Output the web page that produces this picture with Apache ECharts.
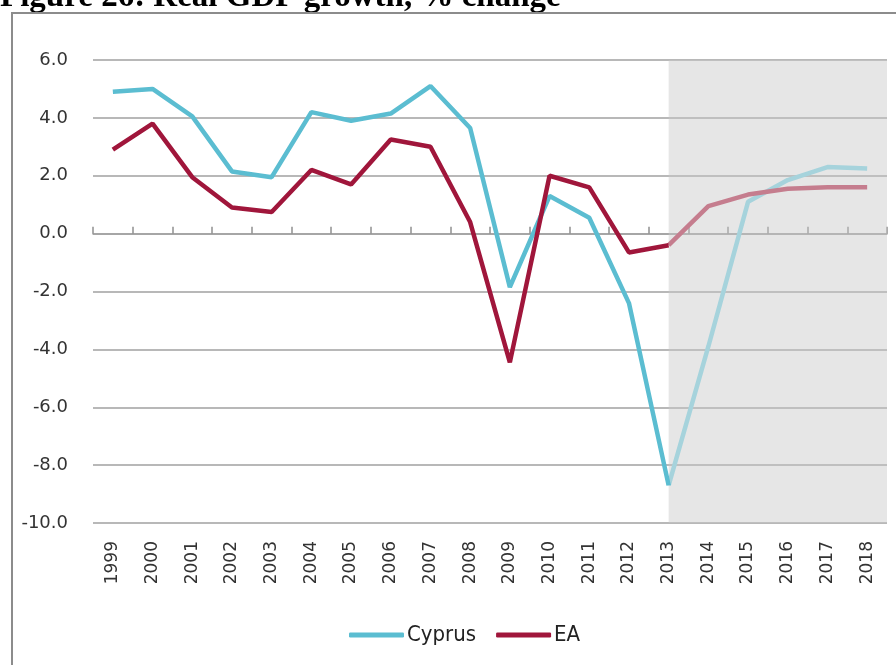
<!DOCTYPE html>
<html>
<head>
<meta charset="utf-8">
<script src="https://cdn.jsdelivr.net/npm/echarts@6/dist/echarts.min.js"></script>
<style>
  html, body { margin: 0; padding: 0; background: #fff; }
  #chart { width: 896px; height: 665px; }
</style>
</head>
<body>
<div id="chart"></div>
<script>
  // years on the category axis
  var years = ['1999', '2000', '2001', '2002', '2003', '2004', '2005', '2006', '2007', '2008',
               '2009', '2010', '2011', '2012', '2013', '2014', '2015', '2016', '2017', '2018']
  // real GDP growth, % change
  var cyprus = [4.9, 5.0, 4.05, 2.15, 1.95, 4.2, 3.9, 4.15, 5.1, 3.65,
                -1.85, 1.3, 0.55, -2.4, -8.7, -3.9, 1.1, 1.85, 2.3, 2.25]
  var ea = [2.9, 3.8, 1.95, 0.9, 0.75, 2.2, 1.7, 3.25, 3.0, 0.4,
            -4.45, 2.0, 1.6, -0.65, -0.4, 0.95, 1.35, 1.55, 1.6, 1.6]
  var forecastFrom = '2013'
  var yTicks = { min: -10, max: 6, step: 2 }

  var cut = years.indexOf(forecastFrom)
  function actual(arr) {
    return arr.map(function (v, i) { return i <= cut ? v : null })
  }
  function forecast(arr) {
    return arr.map(function (v, i) { return i >= cut ? v : null })
  }

  var chart = echarts.init(document.getElementById('chart'))
  var labelFont = '"DejaVu Sans", sans-serif'

  var option = {
    animation: false,
    backgroundColor: '#fff',
    graphic: [
      {
        type: 'text',
        x: 0,
        y: 14,
        style: {
          text: 'Figure 26: Real GDP growth, % change',
          font: 'bold 33px "Liberation Serif", serif',
          fill: '#000',
          verticalAlign: 'bottom'
        }
      },
      {
        type: 'rect',
        shape: { x: 12, y: 13, width: 900, height: 700 },
        style: { fill: 'none', stroke: '#8c8c8c', lineWidth: 2 },
        z: 100
      }
    ],
    legend: {
      data: ['Cyprus', 'EA'],
      bottom: 14,
      left: 344,
      icon: 'roundRect',
      itemWidth: 55,
      itemHeight: 5,
      itemGap: 20,
      textStyle: { fontFamily: '"DejaVu Sans Condensed", sans-serif', fontSize: 22, color: '#222', padding: [0, 0, 0, -2] }
    },
    grid: { left: 93, right: 9, top: 60, bottom: 142 },
    xAxis: [
      {
        type: 'category',
        data: years,
        boundaryGap: true,
        axisLine: { onZero: true, lineStyle: { color: '#a0a0a0', width: 1.5 } },
        axisTick: { show: true, interval: 0, inside: true, length: 7, lineStyle: { color: '#909090', width: 1.5 } },
        axisLabel: { show: false }
      },
      {
        type: 'category',
        data: years,
        position: 'bottom',
        axisLine: { show: false },
        axisTick: { show: false },
        axisLabel: { rotate: 90, margin: 18, fontSize: 17, color: '#333', fontFamily: labelFont }
      }
    ],
    yAxis: {
      type: 'value',
      min: yTicks.min,
      max: yTicks.max,
      interval: yTicks.step,
      axisLine: { show: false },
      axisTick: { show: false },
      splitLine: { lineStyle: { color: '#a0a0a0', width: 1.5 } },
      axisLabel: {
        margin: 25,
        fontSize: 18,
        color: '#333',
        fontFamily: labelFont,
        formatter: function (v) { return v.toFixed(1) }
      }
    },
    series: [
      {
        name: 'forecast shade',
        type: 'line',
        data: [],
        z: 1,
        silent: true,
        markArea: {
          silent: true,
          itemStyle: { color: 'rgba(200,200,200,0.45)' },
          data: [[{ xAxis: forecastFrom }, {}]]
        }
      },
      {
        name: 'Cyprus',
        type: 'line',
        data: actual(cyprus),
        showSymbol: false,
        symbol: 'none',
        z: 3,
        itemStyle: { color: '#5bbdd1' },
        lineStyle: { color: '#5bbdd1', width: 4.5 }
      },
      {
        name: 'EA',
        type: 'line',
        data: actual(ea),
        showSymbol: false,
        symbol: 'none',
        z: 3,
        itemStyle: { color: '#a0163b' },
        lineStyle: { color: '#a0163b', width: 4.5 }
      },
      {
        name: 'Cyprus forecast',
        type: 'line',
        data: forecast(cyprus),
        showSymbol: false,
        symbol: 'none',
        z: 2,
        lineStyle: { color: '#a6d3dc', width: 4.5 }
      },
      {
        name: 'EA forecast',
        type: 'line',
        data: forecast(ea),
        showSymbol: false,
        symbol: 'none',
        z: 2,
        lineStyle: { color: '#c57d8e', width: 4.5 }
      }
    ]
  }

  chart.setOption(option)
</script>
</body>
</html>
